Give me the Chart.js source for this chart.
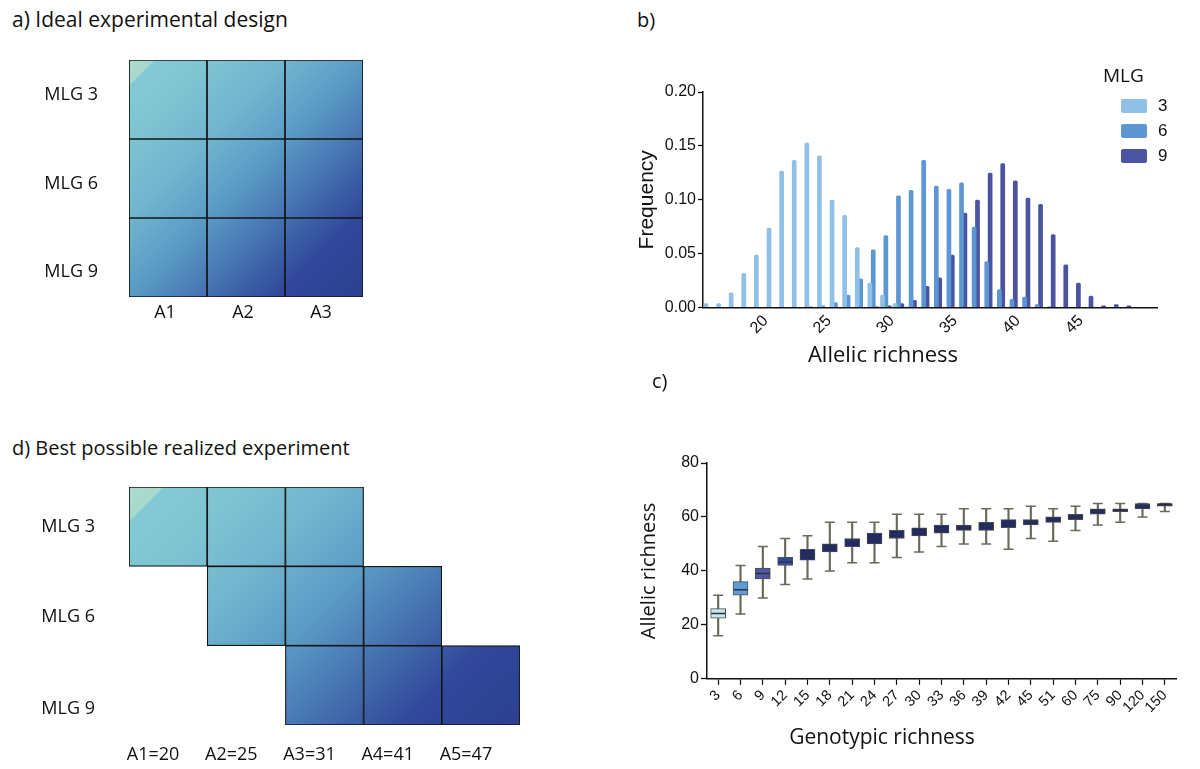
<!DOCTYPE html>
<html>
<head>
<meta charset="utf-8">
<script src="https://cdn.jsdelivr.net/npm/chart.js@4.4.1/dist/chart.umd.min.js"></script>
<style>
  body { margin: 0; width: 1200px; height: 769px; background: #fff; position: relative; overflow: hidden; }
  canvas { position: absolute; }
  .lbl { position: absolute; font-family: 'Open Sans', sans-serif; font-size: 20px; line-height: 1; color: #111; white-space: nowrap; z-index: 2; }
</style>
</head>
<body>
<div class="lbl" style="left:12px; top:9px; font-size:21px;">a) Ideal experimental design</div>
<div class="lbl" style="left:637px; top:10px;">b)</div>
<div class="lbl" style="left:652px; top:371px;">c)</div>
<div class="lbl" style="left:12px; top:438px;">d) Best possible realized experiment</div>

<canvas id="chartA" width="400" height="300" style="left:0; top:40px;"></canvas>
<canvas id="chartD" width="560" height="299" style="left:0; top:470px;"></canvas>
<canvas id="chartB" width="620" height="320" style="left:580px; top:60px;"></canvas>
<canvas id="chartC" width="620" height="329" style="left:580px; top:440px;"></canvas>

<script>
// a) ideal design: every allelic level crossed with every MLG level
const aCols = ['A1', 'A2', 'A3'];
const aRows = ['MLG 3', 'MLG 6', 'MLG 9'];
const aCells = [
  [1, 1, 1],
  [1, 1, 1],
  [1, 1, 1]
];

// d) realized design
const dCols = ['A1=20', 'A2=25', 'A3=31', 'A4=41', 'A5=47'];
const dRows = ['MLG 3', 'MLG 6', 'MLG 9'];
const dCells = [
  [1, 1, 1, 0, 0],
  [0, 1, 1, 1, 0],
  [0, 0, 1, 1, 1]
];

// b) frequency of allelic richness per MLG level
const bAllelic = [16, 17, 18, 19, 20, 21, 22, 23, 24, 25, 26, 27, 28, 29, 30, 31, 32, 33,
                  34, 35, 36, 37, 38, 39, 40, 41, 42, 43, 44, 45, 46, 47, 48, 49, 50, 51];
const bTickLabels = [20, 25, 30, 35, 40, 45];
const bLegendTitle = 'MLG';
const bMLG3 = [0.004, 0.004, 0.014, 0.032, 0.049, 0.074, 0.127, 0.137, 0.153, 0.141, 0.100, 0.086,
               0.056, 0.023, 0.012, 0.004, 0.001, 0, 0, 0, 0, 0, 0, 0,
               0, 0, 0, 0, 0, 0, 0, 0, 0, 0, 0, 0];
const bMLG6 = [0, 0, 0, 0, 0, 0, 0, 0, 0.001, 0.002, 0.005, 0.012,
               0.027, 0.054, 0.067, 0.104, 0.109, 0.137, 0.113, 0.110, 0.116, 0.075, 0.043, 0.017,
               0.008, 0.010, 0.003, 0.001, 0, 0, 0, 0, 0, 0, 0, 0];
const bMLG9 = [0, 0, 0, 0, 0, 0, 0, 0, 0, 0, 0, 0,
               0, 0.001, 0.002, 0.004, 0.007, 0.020, 0.028, 0.049, 0.088, 0.100, 0.125, 0.134,
               0.118, 0.102, 0.096, 0.068, 0.040, 0.023, 0.011, 0.002, 0.003, 0.002, 0, 0];

// c) allelic richness vs genotypic richness (box plots)
const cGenotypic = [3, 6, 9, 12, 15, 18, 21, 24, 27, 30, 33, 36, 39, 42, 45, 51, 60, 75, 90, 120, 150];
const cMin    = [16, 24, 30, 35, 37, 40, 43, 43, 45, 47, 49, 50, 50, 48, 52, 51, 55, 57, 58, 60, 62];
const cQ1     = [22.5, 31, 37, 42, 44, 47, 49, 50, 52, 53, 54, 55, 55, 56, 57, 58, 59, 61, 62, 63, 64];
const cMedian = [24.2, 33, 39, 43.3, 46, 48.8, 51, 52, 53.6, 54.6, 55.6, 56, 57, 57.7, 58, 59, 60, 62, 62.5, 64, 64.7];
const cQ3     = [26, 36, 41, 45, 48, 50, 52, 54, 55, 56, 57, 57, 58, 59, 59, 60, 61, 63, 63, 65, 65];
const cMax    = [31, 42, 49, 52, 53, 58, 58, 58, 61, 61, 61, 63, 63, 63, 64, 63, 64, 65, 65, 65, 65];
const cBoxColors = ['#c6e7eb', '#5e9dd4', '#4f58a4', '#2d4c9c', '#1f2a6a', '#1f2a6a', '#1f2a6a',
                    '#1f2a6a', '#1f2a6a', '#1f2a6a', '#1f2a6a', '#1f2a6a', '#1f2a6a', '#1f2a6a',
                    '#1f2a6a', '#1f2a6a', '#1f2a6a', '#1f2a6a', '#1f2a6a', '#1f2a6a', '#1f2a6a'];

const ink = '#111';
const serifless = 'Liberation Sans';
const myriad = 'Open Sans';

// diagonal teal -> dark blue fill spanning the whole grid
function cellGradient(context) {
  const chart = context.chart;
  const area = chart.chartArea;
  if (!area) return '#5a9bc6';
  const L = (area.width + area.height) / 2;
  const g = chart.ctx.createLinearGradient(area.left, area.top, area.left + L, area.top + L);
  g.addColorStop(0, '#abdbcd');
  g.addColorStop(0.054, '#a8d9cd');
  g.addColorStop(0.056, '#82cad4');
  g.addColorStop(0.167, '#7ec5d2');
  g.addColorStop(0.333, '#71b5cf');
  g.addColorStop(0.5, '#5a9bc6');
  g.addColorStop(0.667, '#4470af');
  g.addColorStop(0.82, '#30479a');
  g.addColorStop(1, '#2d4090');
  return g;
}

function gridChart(id, cols, rows, cells, rowTicks, cfg) {
  const n = rows.length;
  return new Chart(document.getElementById(id), {
    type: 'bar',
    data: {
      labels: cols,
      datasets: rows.map((row, r) => ({
        label: row,
        data: cells[r].map(v => v ? [n - 1 - r, n - r] : null),
        backgroundColor: cellGradient,
        borderColor: '#151515',
        borderWidth: 1.2,
        borderSkipped: false,
        grouped: false,
        barPercentage: 1,
        categoryPercentage: 1
      }))
    },
    options: {
      responsive: false,
      animation: false,
      layout: { padding: cfg.padding },
      plugins: { legend: { display: false }, tooltip: { enabled: false } },
      scales: {
        x: {
          grid: { display: false, drawTicks: false },
          border: { display: false },
          ticks: { color: ink, font: { family: myriad, size: 18 }, padding: cfg.xPad,
                   labelOffset: cfg.xShift, maxRotation: 0 },
          afterFit: s => { s.height = cfg.xHeight; }
        },
        y: {
          min: 0, max: n,
          grid: { display: false, drawTicks: false },
          border: { display: false },
          afterBuildTicks: s => { s.ticks = rowTicks.map(v => ({ value: v })); },
          ticks: { color: ink, font: { family: myriad, size: 18 }, padding: cfg.yPad,
                   callback: (v, i) => rows[n - 1 - i] },
          afterFit: s => { s.width = 129; s.paddingTop = 0; s.paddingBottom = 0; }
        }
      }
    }
  });
}

gridChart('chartA', aCols, aRows, aCells, [0.32, 1.43, 2.56],
  { padding: { top: 20, right: 37, left: 0, bottom: 0 }, xPad: 5, xShift: -3, xHeight: 43, yPad: 31 });

gridChart('chartD', dCols, dRows, dCells, [0.20, 1.36, 2.50],
  { padding: { top: 17, right: 40, left: 0, bottom: 0 }, xPad: 19, xShift: -15, xHeight: 44, yPad: 34 });

// legend for panel b, drawn at the top right corner
const mlgLegend = {
  id: 'mlgLegend',
  afterDraw(chart) {
    const c = chart.ctx;
    c.save();
    c.fillStyle = ink;
    c.textBaseline = 'middle';
    c.font = '19px "' + myriad + '"';
    c.fillText(bLegendTitle, 523, 17);
    c.font = '17px "' + serifless + '"';
    chart.data.datasets.forEach((ds, i) => {
      const top = 39 + i * 25;
      c.fillStyle = ds.backgroundColor;
      c.beginPath();
      c.roundRect(541, top, 26, 14, 2);
      c.fill();
      c.fillStyle = ink;
      c.fillText(ds.label, 578, top + 7.5);
    });
    c.restore();
  }
};

new Chart(document.getElementById('chartB'), {
  type: 'bar',
  data: {
    labels: bAllelic,
    datasets: [
      { label: '3', data: bMLG3, backgroundColor: '#8fc0e7' },
      { label: '6', data: bMLG6, backgroundColor: '#5c97d3' },
      { label: '9', data: bMLG9, backgroundColor: '#4a54a1' }
    ]
  },
  options: {
    responsive: false,
    animation: false,
    datasets: { bar: { categoryPercentage: 0.8, barPercentage: 1.4, borderRadius: 1.5 } },
    layout: { padding: { left: 29, right: 43, top: 32, bottom: 11 } },
    plugins: {
      legend: { display: false },
      tooltip: { enabled: false },
      title: {
        display: true, position: 'bottom', text: 'Allelic richness', color: ink, padding: 0,
        font: { family: myriad, size: 22, weight: 'normal' }
      }
    },
    scales: {
      x: {
        grid: { display: false, drawTicks: false },
        border: { color: ink, width: 1.5 },
        ticks: {
          autoSkip: false, minRotation: 45, maxRotation: 45, padding: 4, labelOffset: 6, color: ink,
          font: { family: serifless, size: 16 },
          callback: (v, i) => bTickLabels.includes(bAllelic[i]) ? String(bAllelic[i]) : ''
        },
        afterFit: s => { s.height = 35; }
      },
      y: {
        min: 0, max: 0.2,
        grid: { drawOnChartArea: false, tickLength: 5, color: ink, tickWidth: 1.3 },
        border: { color: ink, width: 1.5 },
        ticks: { stepSize: 0.05, padding: 2, color: ink, font: { family: serifless, size: 16 },
                 callback: v => v.toFixed(2) },
        title: { display: true, text: 'Frequency', color: ink, padding: { top: 26, bottom: 0 },
                 font: { family: serifless, size: 21 } },
        afterFit: s => { s.width = 94; }
      }
    }
  },
  plugins: [mlgLegend]
});

const whiskerColor = '#6b6a58';

new Chart(document.getElementById('chartC'), {
  type: 'bar',
  data: {
    labels: cGenotypic,
    datasets: [
      { type: 'line', label: 'median', data: cMedian, showLine: false, pointStyle: 'line',
        pointRadius: 7, pointBorderColor: '#2c3046', pointBorderWidth: 1.5, order: 0 },
      { type: 'bar', label: 'box', data: cQ1.map((q, i) => [q, cQ3[i]]),
        backgroundColor: cBoxColors, borderColor: '#4d4d4d', borderWidth: 1, borderSkipped: false,
        barThickness: 15, grouped: false, order: 1 },
      { type: 'line', label: 'max', data: cMax, showLine: false, pointStyle: 'line',
        pointRadius: 5, pointBorderColor: whiskerColor, pointBorderWidth: 1.5, order: 2 },
      { type: 'line', label: 'min', data: cMin, showLine: false, pointStyle: 'line',
        pointRadius: 5, pointBorderColor: whiskerColor, pointBorderWidth: 1.5, order: 2 },
      { type: 'bar', label: 'range', data: cMin.map((m, i) => [m, cMax[i]]),
        backgroundColor: whiskerColor, barThickness: 1.5, grouped: false, order: 3 }
    ]
  },
  options: {
    responsive: false,
    animation: false,
    layout: { padding: { left: 8, right: 24, top: 23, bottom: 18 } },
    plugins: {
      legend: { display: false },
      tooltip: { enabled: false },
      title: {
        display: true, position: 'bottom', text: 'Genotypic richness', color: ink, padding: 0,
        font: { family: myriad, size: 21, weight: 'normal' }
      }
    },
    scales: {
      x: {
        grid: { drawOnChartArea: false, offset: false, tickLength: 6, color: ink, tickWidth: 1.2 },
        border: { color: ink, width: 1.5 },
        ticks: { autoSkip: false, minRotation: 45, maxRotation: 45, padding: 2, color: ink,
                 font: { family: serifless, size: 14.5 } },
        afterFit: s => { s.height = 47; }
      },
      y: {
        min: 0, max: 80,
        grid: { drawOnChartArea: false, tickLength: 6, color: ink, tickWidth: 1.3 },
        border: { color: ink, width: 1.5 },
        ticks: { stepSize: 20, padding: 2, color: ink, font: { family: serifless, size: 16 } },
        title: { display: true, text: 'Allelic richness', color: ink, padding: { top: 49, bottom: 0 },
                 font: { family: myriad, size: 20 } },
        afterFit: s => { s.width = 119; }
      }
    }
  }
});
</script>
</body>
</html>
